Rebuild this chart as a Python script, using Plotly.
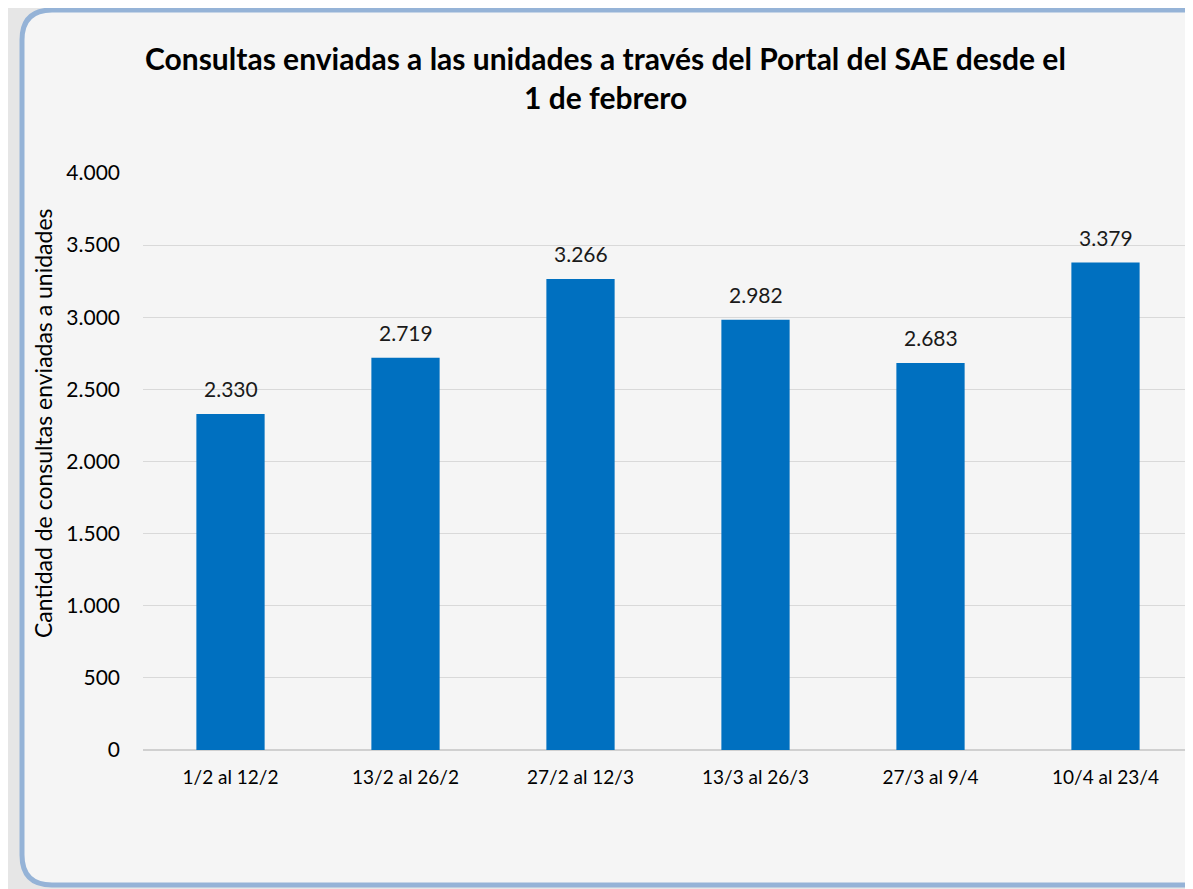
import plotly.graph_objects as go

categories = ["1/2 al 12/2", "13/2 al 26/2", "27/2 al 12/3", "13/3 al 26/3", "27/3 al 9/4", "10/4 al 23/4"]
values = [2330, 2719, 3266, 2982, 2683, 3379]
y_ticks = [0, 500, 1000, 1500, 2000, 2500, 3000, 3500, 4000]
title_lines = ["Consultas enviadas a las unidades a través del Portal del SAE desde el", "1 de febrero"]
y_title = "Cantidad de consultas enviadas a unidades"

# page has an 8px body margin; figure pixel = page pixel - 8
OFF = 8
W, H = 1185, 881
L, R, T, B = 135, 0, 165, 139
PW, PH = W - L - R, H - T - B

def px(x):  # page pixel -> paper x
    return (x - OFF - L) / PW

def py(y):  # page pixel -> paper y
    return (H - B - (y - OFF)) / PH

FONT = "Lato"

fig = go.Figure()
fig.add_trace(go.Bar(
    x=categories, y=values,
    marker=dict(color="#0070c0", line=dict(width=0)),
    width=0.39,
    hoverinfo="x+y",
))

# rounded border
x0, y0, x1, y1, r = px(22), py(10), px(1240), py(885), 30
rx, ry = r / PW, r / PH
path = (f"M {x0+rx},{y0} L {x1},{y0} L {x1},{y1} L {x0+rx},{y1} "
        f"Q {x0},{y1} {x0},{y1+ry} L {x0},{y0-ry} Q {x0},{y0} {x0+rx},{y0} Z")
shapes = [dict(type="path", xref="paper", yref="paper", path=path,
               fillcolor="#f5f5f5", line=dict(color="#95b3d7", width=5), layer="below")]

annotations = [
    dict(text=f"<b>{title_lines[0]}</b>", x=px(605), y=py(58), xref="paper", yref="paper",
         showarrow=False, xanchor="center", yanchor="middle",
         font=dict(size=30, color="#000000", family=FONT)),
    dict(text=f"<b>{title_lines[1]}</b>", x=px(605), y=py(97), xref="paper", yref="paper",
         showarrow=False, xanchor="center", yanchor="middle",
         font=dict(size=30, color="#000000", family=FONT)),
    dict(text=y_title, x=px(43), y=py(423), xref="paper", yref="paper", textangle=-90,
         showarrow=False, xanchor="center", yanchor="middle",
         font=dict(size=23, color="#000000", family=FONT)),
]
for c, v in zip(categories, values):
    annotations.append(dict(
        x=c, y=v, xref="x", yref="y", text=f"{v:,}".replace(",", "."),
        showarrow=False, xanchor="center", yanchor="middle", yshift=25,
        font=dict(size=21, color="#1a1a1a", family=FONT)))

fig.update_layout(
    width=W, height=H,
    margin=dict(l=L, r=R, t=T, b=B, autoexpand=False),
    paper_bgcolor="#e6e6e6", plot_bgcolor="rgba(0,0,0,0)",
    separators=",.",
    showlegend=False,
    shapes=shapes, annotations=annotations,
    xaxis=dict(showgrid=False, showline=False, zeroline=False, ticks="",
               ticklabelstandoff=14,
               tickfont=dict(size=19, color="#000000", family=FONT)),
    yaxis=dict(range=[0, 4000], tickvals=y_ticks, tickformat=",",
               showgrid=True, gridcolor="#d9d9d9", gridwidth=1,
               zeroline=True, zerolinecolor="#d0d0d0", zerolinewidth=1.5,
               showline=False, ticks="", ticklabelstandoff=22,
               tickfont=dict(size=21, color="#000000", family=FONT)),
)

fig.write_html("out.html")
